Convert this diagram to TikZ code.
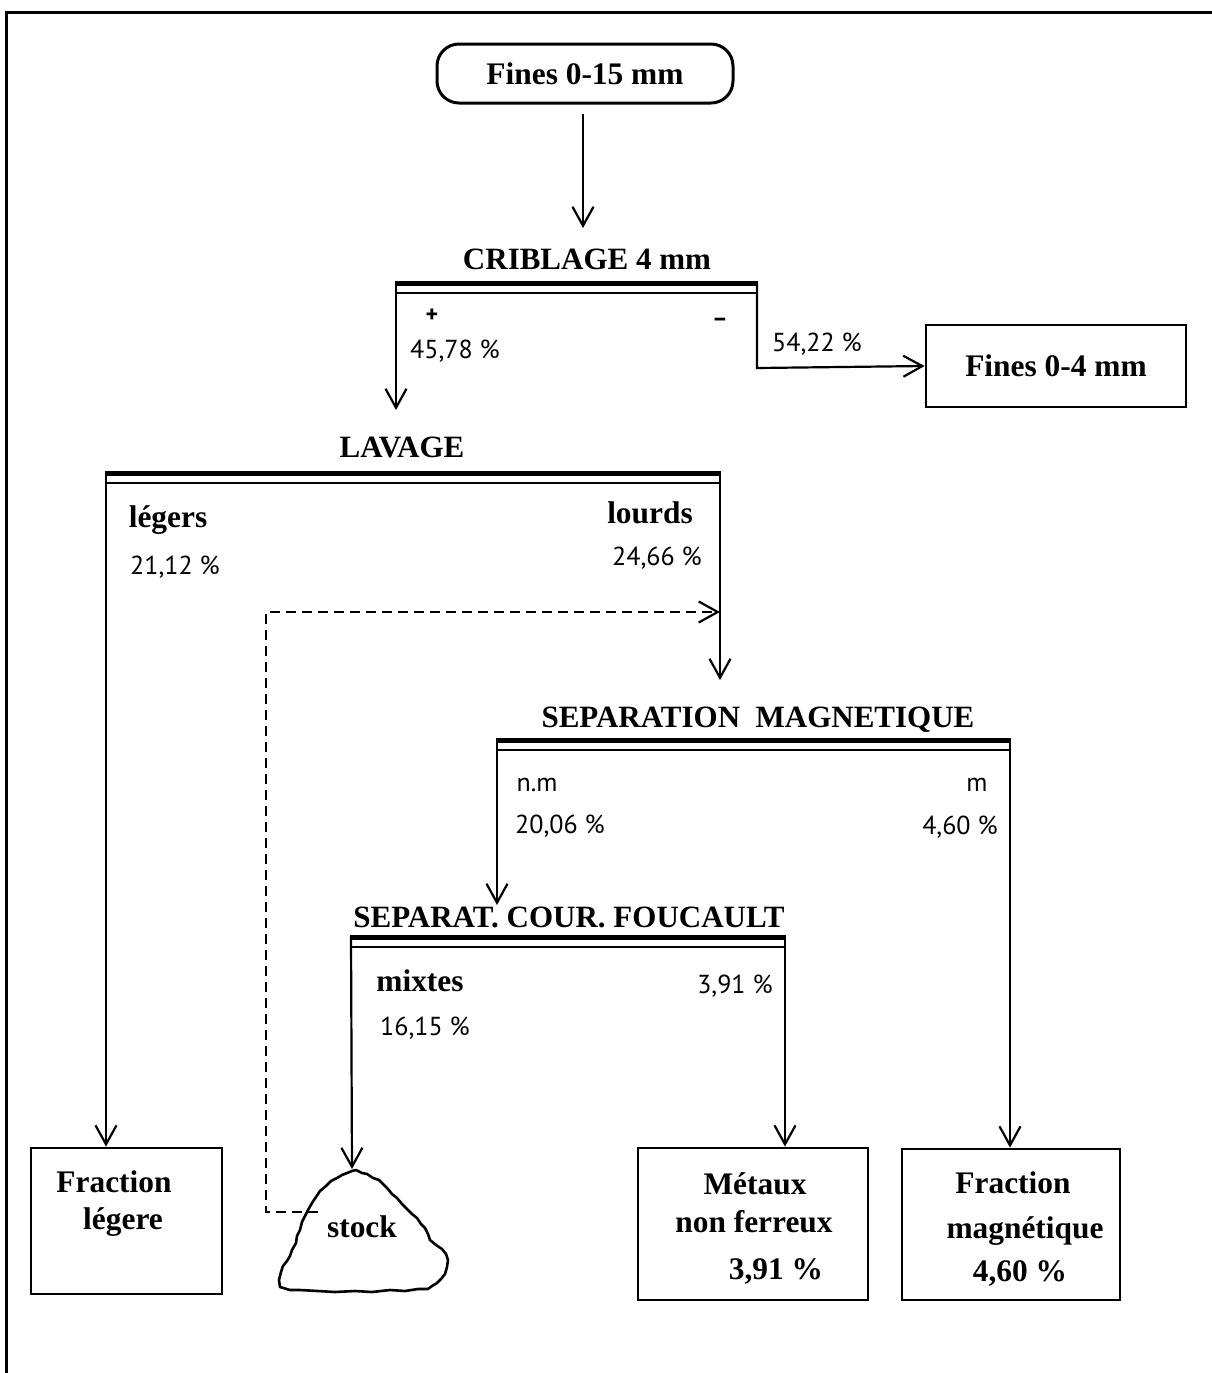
\documentclass[tikz,border=0pt]{standalone}
\usepackage{fontspec}
\setmainfont{Liberation Serif}
\newfontfamily\labfont{PT Sans}
\usetikzlibrary{arrows.meta}
\newcommand\sepbar[4]{%
  \coordinate (#1L) at (#2,#4);
  \coordinate (#1R) at (#3,#4);
  \draw[line width=2.2pt] (#2,#4+1.5) -- (#3,#4+1.5);
  \draw[line width=1.1pt] (#2,#4) rectangle (#3,#4+11);
}
\begin{document}
\begin{tikzpicture}[x=0.5pt,y=-0.5pt,
  arr/.style={line width=1.1pt,-{Straight Barb[length=9.5pt,width=10.5pt,line width=1.1pt]}},
  dsh/.style={line width=1.4pt,dash pattern=on 5pt off 3pt,-{Straight Barb[length=9.5pt,width=10.5pt,line width=1.1pt]}},
  ttl/.style={font=\fontsize{15.5}{18}\selectfont\bfseries, inner sep=0pt, anchor=base},
  lbl/.style={font=\labfont\fontsize{13}{15}\selectfont, inner sep=0pt, anchor=base},
  btx/.style={font=\fontsize{15.7}{19}\selectfont\bfseries, inner sep=0pt, anchor=base},
  box/.style={draw, line width=1.4pt, inner sep=0pt, align=center, font=\fontsize{15.7}{19}\selectfont\bfseries}
]
\useasboundingbox (0,0) rectangle (1212,1373);
% frame
\draw[line width=1.5pt] (1212,12) -- (6,12) -- (6,1373);

% top
\node[box, rounded corners=11pt, line width=1.5pt, minimum width=148pt, minimum height=29.5pt] (fines15) at (585,73.5) {Fines 0-15 mm};
\node[ttl] (crib) at (587,269) {CRIBLAGE 4 mm};
\coordinate (f15s) at (583,114);
\coordinate (cribin) at (583,228);
\draw[arr] (f15s) -- (cribin);

\sepbar{cb}{396}{757}{282}
\node[font=\labfont\bfseries\fontsize{12}{14}\selectfont, inner sep=0pt] (plus) at (432,316) {+};
\node[font=\labfont\bfseries\fontsize{12}{14}\selectfont, inner sep=0pt] (minus) at (720,322) {–};
\node[lbl] (p4578) at (455,358) {45,78 \%};
\node[lbl] (p5422) at (817,351) {54,22 \%};
\node[box, minimum width=130pt, minimum height=41pt] (fines4) at (1056,366) {Fines 0-4 mm};
\coordinate (lavin) at (396,410);
\draw[arr] (cbL) -- (lavin);
\draw[arr] (cbR) -- (757,368) -- (fines4.west);

% lavage
\node[ttl] (lav) at (402,457) {LAVAGE};
\sepbar{lv}{106}{720}{472}
\node[btx] (legers) at (168,527) {légers};
\node[lbl] (p2112) at (175,574) {21,12 \%};
\node[btx] (lourds) at (650,523) {lourds};
\node[lbl] (p2466) at (657,565) {24,66 \%};
\node[box, minimum width=95.5pt, minimum height=73pt] (fracl) at (126.5,1221) {};
\node[btx] at (114,1192) {Fraction};
\node[btx] at (123,1229) {légere};
\draw[arr] (lvL) -- (lvL |- fracl.north);
\coordinate (magin) at (720,680);
\draw[arr] (lvR) -- (magin);

% magnetic
\node[ttl] (mag) at (758,727) {SEPARATION\hspace{0.5em}MAGNETIQUE};
\sepbar{mg}{497}{1010}{739}
\node[lbl] (nm) at (537,791) {n.m};
\node[lbl] (p2006) at (560,833) {20,06 \%};
\node[lbl] (m) at (977,791) {m};
\node[lbl] (p460) at (960,834) {4,60 \%};
\coordinate (fouin) at (497,905);
\draw[arr] (mgL) -- (fouin);
\node[box, minimum width=109pt, minimum height=75.5pt] (fracm) at (1011,1224.5) {};
\node[btx] at (1013,1193) {Fraction};
\node[btx] at (1025,1238) {magnétique};
\node[btx] at (1020,1281) {4,60 \%};
\draw[arr] (mgR) -- (mgR |- fracm.north);

% foucault
\node[ttl] (fou) at (569,927) {SEPARAT. COUR. FOUCAULT};
\sepbar{fc}{351}{785}{936}
\node[btx] (mixtes) at (420,991) {mixtes};
\node[lbl] (p1615) at (425,1035) {16,15 \%};
\node[lbl] (p391) at (735,993) {3,91 \%};
\node[box, minimum width=115pt, minimum height=76pt] (metaux) at (753,1224) {};
\node[btx] at (755,1194) {Métaux};
\node[btx] at (754,1232) {non ferreux};
\node[btx] at (776,1279) {3,91 \%};
\draw[arr] (fcR) -- (fcR |- metaux.north);

% stock pile
\draw[line width=1.3pt, line join=round]
 (280,1287) -- (279,1280) -- (281,1272) -- (283,1266) -- (287,1261) -- (290,1256) -- (292,1250)
 -- (296,1243) -- (297,1236) -- (300,1230) -- (302,1222) -- (305,1216) -- (308,1210)
 -- (312,1203) -- (316,1197) -- (320,1191) -- (326,1186) -- (331,1181) -- (337,1178)
 -- (342,1175) -- (347,1173) -- (352,1171) -- (356,1170) -- (362,1173) -- (367,1174)
 -- (373,1178) -- (379,1180) -- (383,1184) -- (388,1189) -- (392,1194) -- (397,1198)
 -- (402,1204) -- (407,1209) -- (412,1214) -- (417,1218) -- (421,1224) -- (425,1228)
 -- (428,1234) -- (430,1240) -- (436,1245) -- (442,1249) -- (446,1254) -- (448,1260)
 -- (447,1267) -- (445,1274) -- (441,1279) -- (437,1283) -- (432,1286) -- (428,1289)
 -- (418,1289) -- (405,1291) -- (390,1290) -- (372,1292) -- (355,1291) -- (335,1292)
 -- (318,1291) -- (300,1290) -- (290,1290) -- cycle;
\node[btx] (stock) at (362,1237) {stock};
\coordinate (stocktop) at (352,1169);
\draw[arr] (fcL) -- (stocktop);
\coordinate (stockleft) at (318,1212);
\coordinate (dtop) at (266,612);
\coordinate (dbot) at (266,1212);
\draw[dsh] (stockleft) -- (dbot) -- (dtop) -- (dtop -| lvR);
\end{tikzpicture}
\end{document}
